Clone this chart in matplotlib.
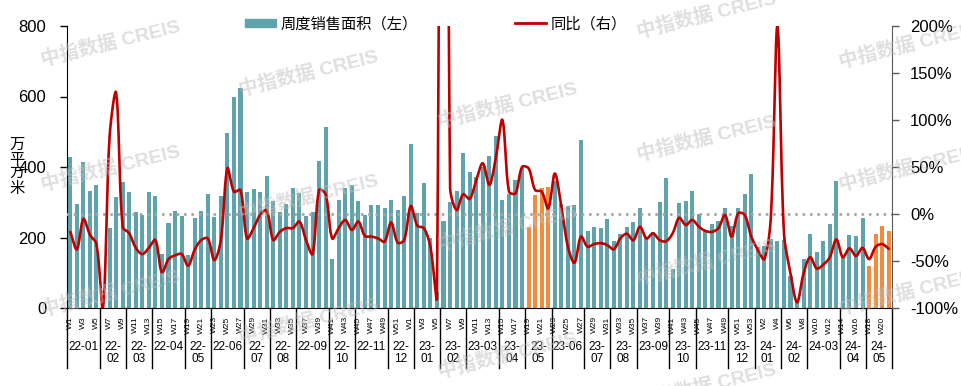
import numpy as np
import matplotlib
matplotlib.use("Agg")
import matplotlib.pyplot as plt
from matplotlib.patches import Patch
from matplotlib.lines import Line2D

plt.rcParams["font.family"] = ["Liberation Sans", "Noto Sans CJK SC"]
plt.rcParams["axes.unicode_minus"] = False

# weekly sales area (10k m2), 2022-W1 .. 2024-W21
area = [429, 295, 415, 332, 350, 0, 226, 316, 358, 330, 272, 263, 330, 319, 153, 240, 275, 260, 151, 254, 275,
        322, 259, 317, 496, 600, 623, 329, 337, 329, 374, 304, 272, 294, 340, 325, 261, 272, 417, 513, 138, 307,
        341, 350, 304, 264, 292, 292, 285, 306, 278, 317, 466, 269, 356, 200, 45, 246, 302, 331, 439, 387, 372,
        401, 431, 489, 307, 322, 363, 396, 229, 321, 340, 344, 360, 294, 289, 293, 476, 219, 231, 228, 252, 191,
        209, 231, 244, 283, 200, 215, 302, 369, 112, 299, 304, 331, 268, 221, 238, 247, 284, 233, 284, 323, 381,
        172, 176, 196, 191, 193, 90, 20, 138, 209, 160, 191, 237, 360, 146, 206, 203, 255, 118, 210, 234, 218]

# year-on-year change (%)
yoy = [-19, -37.6, -5.3, -22, -32, -100, 82, 129, -13.5, -20.6, -36, -42.6, -36, -27.7, -62.4, -48, -44, -42.6, -55, -38, -27.7,
       -26, -49, -27.7, 48.6, 23.8, 25.5, -26, -15, -1, 4, -27.7, -19, -15, -15, -8, -27.7, -42.6, 25.5, 21, -26, -15,
       -6.4, -17, -8, -23.4, -24, -26, -29.4, -9, -30.5, -27.7, 8.5, -12.4, -15, -34.8, -88, 1500, 29, 4.3, 21, 16, 36,
       54, 31, 60, 100, 24, 22, 50, 48.6, 25.5, 23.8, 6, 43, 7.8, -34.8, -51.8, -24, -34.8, -32, -31, -33, -37.6,
       -26, -21, -28, -13.5, -26, -20.6, -27.7, -29, -20.6, -4, -11.7, -6.4, -13.5, -18, -19, -15, -1, -24, 0.7, -1, -24,
       -38, -48, -3, 200, -20, -63, -94, -63, -46, -58, -54, -46, -27, -46, -36.5, -44.7, -36, -48, -35, -32, -37]

weeks = [f"W{w}" for w in range(1, 53)] + [f"W{w}" for w in range(1, 54)] + [f"W{w}" for w in range(1, 22)]
highlight = [70, 71, 72, 73, 122, 123, 124, 125]

month_labels = ["22-01", "22-\n02", "22-\n03", "22-04", "22-\n05", "22-06", "22-\n07", "22-\n08", "22-09",
                "22-\n10", "22-11", "22-\n12", "23-\n01", "23-\n02", "23-03", "23-\n04", "23-\n05", "23-06",
                "23-\n07", "23-\n08", "23-09", "23-\n10", "23-11", "23-\n12", "24-\n01", "24-\n02", "24-03",
                "24-\n04", "24-\n05"]
month_weeks = [5, 4, 4, 5, 4, 5, 4, 4, 5, 4, 5, 4,
               4, 4, 5, 4, 4, 5, 4, 4, 5, 4, 5, 4,
               4, 4, 5, 4, 4]

teal = "#5FA3AC"
orange = "#F28C3C"
red = "#C00000"


def smooth_curve(xv, yv, kx, ky, n=24):
    # bezier smoothing with control arms scaled by neighbouring segment lengths
    p = np.column_stack([np.asarray(xv, float) * kx, np.asarray(yv, float) * ky])
    m = len(p)
    seg = np.linalg.norm(np.diff(p, axis=0), axis=1)
    t = np.linspace(0, 1, n)[1:, None]
    pts = [p[:1]]
    for i in range(m - 1):
        a = p[max(i - 1, 0)]
        b = p[i]
        c = p[i + 1]
        d = p[min(i + 2, m - 1)]
        lp = seg[i - 1] if i > 0 else 0
        ln = seg[i + 1] if i < m - 2 else 0
        l = seg[i]
        c1 = b + (c - a) * l / (3 * (lp + l)) if lp + l > 0 else b
        c2 = c - (d - b) * l / (3 * (l + ln)) if l + ln > 0 else c
        pts.append((1 - t) ** 3 * b + 3 * (1 - t) ** 2 * t * c1 + 3 * (1 - t) * t ** 2 * c2 + t ** 3 * c)
    q = np.vstack(pts)
    return q[:, 0] / kx, q[:, 1] / ky


fig = plt.figure(figsize=(9.62, 3.86), dpi=100)
ax = fig.add_axes([67 / 962, 78 / 386, 825 / 962, 282 / 386])

x = np.arange(len(area))
colors = [orange if i in highlight else teal for i in x]
ax.bar(x, area, width=0.62, color=colors, zorder=2)
ax.set_xlim(-0.5, len(area) - 0.5)
ax.set_ylim(0, 800)
ax.set_yticks([0, 200, 400, 600, 800])
ax.tick_params(axis="y", length=5, width=1, pad=10, labelsize=12, color="black")
ax.set_xticks(x[::2])
ax.set_xticklabels(weeks[::2], rotation=90, fontsize=6)
ax.tick_params(axis="x", length=0, pad=6)
ax.spines["top"].set_visible(False)
ax.spines["right"].set_visible(False)
for s in ["left", "bottom"]:
    ax.spines[s].set_color("black")

# month group separators and labels
bounds = np.concatenate([[0], np.cumsum(month_weeks)]) - 0.5
tr = ax.get_xaxis_transform()
for b in bounds:
    ax.plot([b, b], [0, -0.213], transform=tr, color="black", lw=1, clip_on=False)
for lab, s, e in zip(month_labels, bounds[:-1], bounds[1:]):
    ax.text((s + e) / 2, -0.118, lab, transform=tr, ha="center", va="top", fontsize=8.5, linespacing=1.0)

ax2 = ax.twinx()
ax2.set_ylim(-100, 200)
ax2.set_yticks([-100, -50, 0, 50, 100, 150, 200])
ax2.set_yticklabels(["-100%", "-50%", "0%", "50%", "100%", "150%", "200%"])
ax2.tick_params(axis="y", length=5, width=1, pad=8, labelsize=12, color="#595959")
for s in ["top", "left", "bottom"]:
    ax2.spines[s].set_visible(False)
ax2.spines["right"].set_color("#595959")
ax2.axhline(0, color="#A6A6A6", lw=2.2, linestyle=(0, (0.01, 2.4)), dash_capstyle="round", zorder=1)

sx, sy = smooth_curve(x, yoy, 825 / 126, 282 / 300)
ax2.plot(sx, sy, color=red, lw=1.9, solid_capstyle="round", zorder=3)

fig.text(17 / 962, 1 - 167 / 386, "万\n平\n方\n米", ha="center", va="center", fontsize=11, linespacing=1.05)

fig.legend(handles=[Patch(color=teal), Line2D([], [], color=red, lw=2)],
           labels=["周度销售面积（左）", "同比（右）"], loc="center",
           bbox_to_anchor=(436 / 962, 1 - 24 / 386), ncol=2, frameon=False, fontsize=11,
           handlelength=2.0, handleheight=0.5, columnspacing=6.4, handletextpad=0.3,
           borderpad=0, borderaxespad=0)

# watermark
marks = [(110, 43), (110, 168), (110, 293), (308, 73), (308, 197), (308, 321),
         (507, 105), (507, 228), (507, 355), (706, 15), (706, 138), (706, 262), (706, 386),
         (908, 45), (908, 168), (908, 292)]
for mx, my in marks:
    fig.text(mx / 962, 1 - my / 386, "中指数据 CREIS", ha="center", va="center", rotation=14,
             fontsize=14, fontweight="bold", color="#BFBFBF", alpha=0.5, zorder=10)

fig.savefig("out.png", dpi=100)
